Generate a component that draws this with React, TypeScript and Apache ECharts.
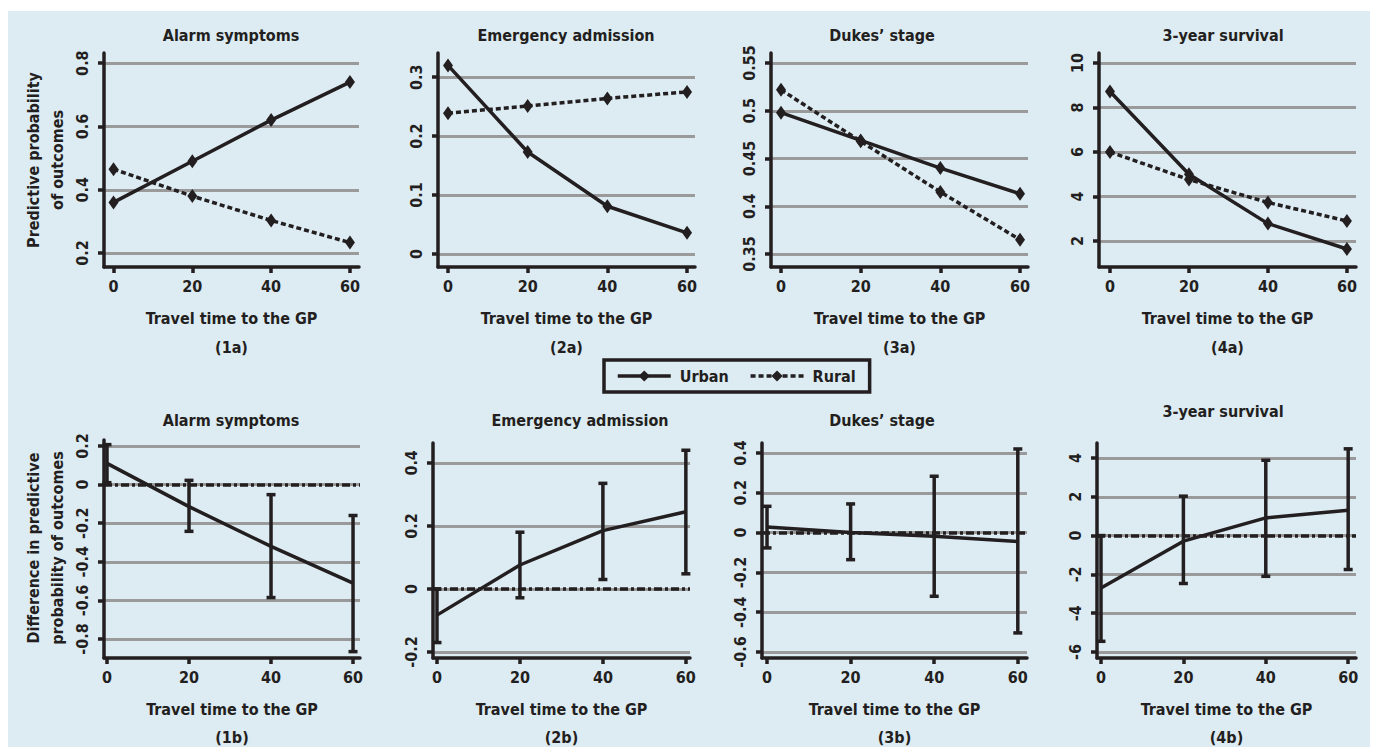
import React, { useEffect, useRef } from "react";
import * as echarts from "echarts";

// ---------- data ----------
const travelTimes = [0, 20, 40, 60];
const xTicks = [0, 20, 40, 60];

const alarmUrban = [0.36, 0.49, 0.62, 0.74];
const alarmRural = [0.465, 0.38, 0.303, 0.233];
const emergencyUrban = [0.32, 0.173, 0.081, 0.036];
const emergencyRural = [0.239, 0.251, 0.264, 0.275];
const dukesUrban = [0.498, 0.469, 0.44, 0.413];
const dukesRural = [0.522, 0.468, 0.415, 0.365];
const survivalUrban = [8.72, 5.0, 2.78, 1.64];
const survivalRural = [6.0, 4.76, 3.73, 2.9];

const alarmDiff = [0.11, -0.114, -0.32, -0.51];
const alarmDiffLow = [0.01, -0.242, -0.585, -0.865];
const alarmDiffHigh = [0.207, 0.022, -0.052, -0.16];
const emergencyDiff = [-0.083, 0.076, 0.185, 0.245];
const emergencyDiffLow = [-0.17, -0.028, 0.03, 0.048];
const emergencyDiffHigh = [0.0, 0.18, 0.335, 0.44];
const dukesDiff = [0.028, 0.0, -0.018, -0.045];
const dukesDiffLow = [-0.077, -0.136, -0.32, -0.504];
const dukesDiffHigh = [0.132, 0.144, 0.283, 0.42];
const survivalDiff = [-2.7, -0.29, 0.91, 1.3];
const survivalDiffLow = [-5.45, -2.47, -2.1, -1.75];
const survivalDiffHigh = [0.0, 2.03, 3.88, 4.47];

const yTicksAlarmA = [0.2, 0.4, 0.6, 0.8];
const yTicksEmergencyA = [0, 0.1, 0.2, 0.3];
const yTicksDukesA = [0.35, 0.4, 0.45, 0.5, 0.55];
const yTicksSurvivalA = [2, 4, 6, 8, 10];
const yTicksAlarmB = [-0.8, -0.6, -0.4, -0.2, 0, 0.2];
const yTicksEmergencyB = [-0.2, 0, 0.2, 0.4];
const yTicksDukesB = [-0.6, -0.4, -0.2, 0, 0.2, 0.4];
const yTicksSurvivalB = [-6, -4, -2, 0, 2, 4];

const titlesTop = ["Alarm symptoms", "Emergency admission", "Dukes\u2019 stage", "3-year survival"];
const titlesBottom = ["Alarm symptoms", "Emergency admission", "Dukes\u2019 stage", "3-year survival"];
const panelLabelsTop = ["(1a)", "(2a)", "(3a)", "(4a)"];
const panelLabelsBottom = ["(1b)", "(2b)", "(3b)", "(4b)"];
const xAxisName = "Travel time to the GP";
const yNameTop = "Predictive probability\nof outcomes";
const yNameBottom = "Difference in predictive\nprobability of outcomes";
const legendNames = ["Urban", "Rural"];

// ---------- layout ----------
const FONT = "'DejaVu Sans Condensed', 'Liberation Sans Narrow', 'DejaVu Sans', sans-serif";
const INK = "#231f20";
const GRID_GRAY = "#9a9a9a";
const LW = 3.5;

const panels = [
  { left: 104, top: 53, width: 255, height: 214, xMin: -2.41, xMax: 62.3, yMin: 0.156, yMax: 0.832 },
  { left: 438, top: 53, width: 257, height: 214, xMin: -2.51, xMax: 62.0, yMin: -0.022, yMax: 0.341 },
  { left: 771, top: 53, width: 257, height: 214, xMin: -2.51, xMax: 62.0, yMin: 0.3364, yMax: 0.5605 },
  { left: 1099, top: 53, width: 257, height: 214, xMin: -2.78, xMax: 62.3, yMin: 0.83, yMax: 10.45 },
  { left: 104, top: 440, width: 256, height: 218, xMin: -0.73, xMax: 61.7, yMin: -0.898, yMax: 0.231 },
  { left: 433, top: 443, width: 257, height: 215, xMin: -0.96, xMax: 61.0, yMin: -0.219, yMax: 0.463 },
  { left: 762, top: 443, width: 265, height: 215, xMin: -1.2, xMax: 62.2, yMin: -0.63, yMax: 0.45 },
  { left: 1097, top: 443, width: 259, height: 215, xMin: -0.97, xMax: 61.9, yMin: -6.31, yMax: 4.77 },
];
const titleTopX = [231, 566, 882, 1223];
const titleBottomX = [231, 580, 882, 1223];
const titleTopY = [35, 35, 35, 35];
const titleBottomY = [420, 420, 420, 411];

const yTicksAll = [
  yTicksAlarmA, yTicksEmergencyA, yTicksDukesA, yTicksSurvivalA,
  yTicksAlarmB, yTicksEmergencyB, yTicksDukesB, yTicksSurvivalB,
];
const urbanAll = [alarmUrban, emergencyUrban, dukesUrban, survivalUrban];
const ruralAll = [alarmRural, emergencyRural, dukesRural, survivalRural];
const diffAll = [alarmDiff, emergencyDiff, dukesDiff, survivalDiff];
const diffLowAll = [alarmDiffLow, emergencyDiffLow, dukesDiffLow, survivalDiffLow];
const diffHighAll = [alarmDiffHigh, emergencyDiffHigh, dukesDiffHigh, survivalDiffHigh];

const textBase = { fontFamily: FONT, fontWeight: "bold" as const, fontSize: 16, color: INK };

function buildOption() {
  const grid = panels.map((p) => ({
    left: p.left, top: p.top, width: p.width, height: p.height,
    containLabel: false, outerBoundsMode: "none",
  }));

  const xAxis = panels.map((p, i) => ({
    type: "value", gridIndex: i, min: p.xMin, max: p.xMax,
    name: xAxisName, nameLocation: "middle", nameGap: 43,
    nameTextStyle: { ...textBase },
    axisLine: { show: true, onZero: false, lineStyle: { color: INK, width: LW } },
    axisTick: { show: true, customValues: xTicks, length: 6, lineStyle: { color: INK, width: LW } },
    axisLabel: { show: true, customValues: xTicks, margin: 11, ...textBase },
    splitLine: { show: false },
  }));

  const yAxis = panels.map((p, i) => ({
    type: "value", gridIndex: i, min: p.yMin, max: p.yMax,
    axisLine: { show: true, onZero: false, lineStyle: { color: INK, width: LW } },
    axisTick: { show: true, customValues: yTicksAll[i], length: 6, lineStyle: { color: INK, width: LW } },
    axisLabel: { show: true, customValues: yTicksAll[i], rotate: 90, margin: 14, ...textBase },
    splitLine: { show: true, lineStyle: { color: GRID_GRAY, width: 3 } },
  }));

  const series: any[] = [];
  for (let k = 0; k < 4; k++) {
    series.push({
      name: legendNames[0], type: "line", xAxisIndex: k, yAxisIndex: k,
      data: travelTimes.map((t, j) => [t, urbanAll[k][j]]),
      symbol: "diamond", symbolSize: [10, 14], showSymbol: true,
      lineStyle: { color: INK, width: LW, type: "solid" },
      itemStyle: { color: INK },
      z: 5,
    });
    series.push({
      name: legendNames[1], type: "line", xAxisIndex: k, yAxisIndex: k,
      data: travelTimes.map((t, j) => [t, ruralAll[k][j]]),
      symbol: "diamond", symbolSize: [10, 14], showSymbol: true,
      lineStyle: { color: INK, width: LW, type: [5, 3] },
      itemStyle: { color: INK },
      z: 5,
    });
  }
  for (let k = 0; k < 4; k++) {
    const gi = k + 4;
    series.push({
      name: "Difference", type: "line", xAxisIndex: gi, yAxisIndex: gi,
      data: travelTimes.map((t, j) => [t, diffAll[k][j]]),
      showSymbol: false, symbol: "none",
      lineStyle: { color: INK, width: LW },
      z: 6,
      markLine: {
        silent: true, symbol: "none", label: { show: false },
        lineStyle: { color: INK, width: LW, type: [8, 3, 3, 3] },
        data: [{ yAxis: 0 }],
        z: 4,
      },
    });
    series.push({
      name: "CI", type: "custom", xAxisIndex: gi, yAxisIndex: gi,
      data: travelTimes.map((t, j) => [t, diffLowAll[k][j], diffHighAll[k][j]]),
      encode: { x: 0, y: [1, 2] },
      z: 7,
      renderItem: (params: any, api: any) => {
        const x = api.value(0);
        const lo = api.coord([x, api.value(1)]);
        const hi = api.coord([x, api.value(2)]);
        const hw = 4.5;
        const style = { stroke: INK, lineWidth: LW, fill: "none" };
        return {
          type: "group",
          children: [
            { type: "line", shape: { x1: lo[0], y1: lo[1], x2: hi[0], y2: hi[1] }, style },
            { type: "line", shape: { x1: lo[0] - hw, y1: lo[1], x2: lo[0] + hw, y2: lo[1] }, style },
            { type: "line", shape: { x1: hi[0] - hw, y1: hi[1], x2: hi[0] + hw, y2: hi[1] }, style },
          ],
        };
      },
    });
  }

  const graphic: any[] = [];
  for (let k = 0; k < 4; k++) {
    graphic.push({
      type: "text", x: titleTopX[k], y: titleTopY[k],
      style: { text: titlesTop[k], align: "center", verticalAlign: "middle", font: `bold 16px ${FONT}`, fill: INK },
    });
    graphic.push({
      type: "text", x: titleBottomX[k], y: titleBottomY[k],
      style: { text: titlesBottom[k], align: "center", verticalAlign: "middle", font: `bold 16px ${FONT}`, fill: INK },
    });
    const pa = panels[k];
    const pb = panels[k + 4];
    graphic.push({
      type: "text", x: pa.left + pa.width / 2, y: 347,
      style: { text: panelLabelsTop[k], align: "center", verticalAlign: "middle", font: `bold 16px ${FONT}`, fill: INK },
    });
    graphic.push({
      type: "text", x: pb.left + pb.width / 2, y: 737,
      style: { text: panelLabelsBottom[k], align: "center", verticalAlign: "middle", font: `bold 16px ${FONT}`, fill: INK },
    });
  }
  graphic.push({
    type: "text", x: 45, y: 160, rotation: Math.PI / 2,
    style: { text: yNameTop, align: "center", verticalAlign: "middle", font: `bold 16px ${FONT}`, fill: INK, lineHeight: 24 },
  });
  graphic.push({
    type: "text", x: 45, y: 548, rotation: Math.PI / 2,
    style: { text: yNameBottom, align: "center", verticalAlign: "middle", font: `bold 16px ${FONT}`, fill: INK, lineHeight: 24 },
  });

  return {
    animation: false,
    grid,
    xAxis,
    yAxis,
    series,
    graphic,
    legend: {
      data: legendNames,
      left: 604, top: 360,
      orient: "horizontal",
      padding: [8, 14, 8, 12],
      itemGap: 20, itemWidth: 53, itemHeight: 14,
      borderColor: INK, borderWidth: 3.5,
      lineStyle: { width: LW },
      textStyle: { ...textBase, padding: [0, 0, 0, 4] },
      selectedMode: false,
    },
  };
}

export default function App() {
  const ref = useRef<HTMLDivElement>(null);
  useEffect(() => {
    document.body.style.margin = "0";
    if (!ref.current) return;
    const chart = echarts.init(ref.current, null, { renderer: "svg" });
    chart.setOption(buildOption() as any);
    return () => chart.dispose();
  }, []);
  return (
    <div style={{ position: "relative", width: 1375, height: 747, background: "#ffffff" }}>
      <div style={{ position: "absolute", left: 8, top: 11, width: 1362, height: 736, background: "#ddebf3" }} />
      <div ref={ref} style={{ position: "absolute", left: 0, top: 0, width: 1375, height: 747 }} />
    </div>
  );
}
